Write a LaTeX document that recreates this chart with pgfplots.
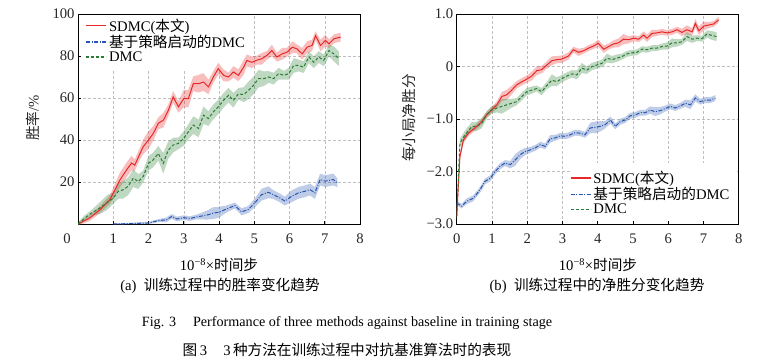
\documentclass[border=0pt]{standalone}
\usepackage{pgfplots}
\pgfplotsset{compat=1.18}
\usepackage{pgfplotstable}
\usepackage{fontspec}
\setmainfont{Liberation Serif}
\newfontfamily\cjk{Noto Sans CJK SC}
\newcommand\zh[1]{{\cjk #1}}
\newcommand\fs{\fontsize{14.7}{17.5}\selectfont}
\definecolor{sred}{RGB}{232,40,40}
\definecolor{sblue}{RGB}{40,85,175}
\definecolor{sgreen}{RGB}{40,125,50}

\pgfplotstableread{
x y e
0 0 0.5
0.33 2.8 1
0.62 6.8 1.2
0.9 11.5 1.5
1.04 16 2
1.19 21 2.5
1.38 25.8 2.5
1.52 29 2.5
1.61 28 2
1.76 33.6 2
1.85 36.8 2.5
2.0 40 3
2.13 43 2.5
2.28 48 2
2.42 49.4 2.5
2.56 54 2
2.7 60.5 2
2.85 55.8 2
3.0 59.7 3
3.13 59.7 3
3.27 66.8 2.5
3.42 66.8 3
3.56 67.6 3
3.7 65.3 2.5
3.84 70 2
3.98 74 2
4.13 70.8 2
4.27 70 1.5
4.41 72.4 2
4.55 70.8 2
4.7 74.7 2.5
4.79 77.9 2
4.93 77 2
5.07 78 1.5
5.22 78.7 2
5.36 80.3 1.5
5.5 82.6 2
5.64 79.5 1.5
5.79 81 2
5.93 81.8 1.5
6.08 84.2 2
6.21 83.4 1.5
6.36 81 2
6.5 84.2 2
6.64 85 2
6.74 89.7 1.5
6.88 85 2
7.02 87.4 2
7.12 85.8 1.5
7.26 88.2 1.5
7.45 89 1.5
}\lred
\pgfplotstableread{
x y e
0 0 0.5
0.19 2.8 1
0.38 5.2 1
0.62 7.6 2
0.81 10 2.5
1.0 12.3 2
1.14 15.5 2.5
1.28 16.3 3
1.42 17.9 3
1.57 21.8 3
1.71 20.2 2.5
1.85 22.6 2
2.0 28.9 2.5
2.13 30.5 2.5
2.28 33.6 2.5
2.42 28.9 3.5
2.56 35.2 3
2.7 37.6 2.5
2.85 38.4 2
3.0 40.8 2.5
3.13 43.9 2.5
3.27 47.1 3
3.42 45.5 3
3.56 51.8 3
3.7 50.2 2.5
3.84 53.4 2.5
3.98 55.8 2.5
4.13 58.9 2.5
4.27 61.3 2.5
4.41 58.9 2.5
4.55 62 2
4.7 61.6 2.5
4.84 63.7 3
4.98 66 3
5.12 69.2 3
5.27 69.2 2.5
5.41 70 2
5.55 69.2 2
5.69 71.6 2
5.84 70.8 1.5
5.98 71.6 2
6.12 75.5 2.5
6.26 75.5 2
6.4 74.7 2
6.55 79.5 2
6.69 77 2
6.83 79.5 2
6.97 77.9 2
7.12 82.6 2
7.26 81 2.5
7.4 78.7 2.5
}\lgreen
\pgfplotstableread{
x y e
1.0 0 0.2
1.5 0.2 0.3
2.0 0.5 0.4
2.28 1.6 0.5
2.51 2.0 0.8
2.66 3.6 0.8
2.8 2.4 0.8
3.0 3.0 0.8
3.18 2.6 0.8
3.37 3.4 0.8
3.65 4.2 1.5
3.84 5.2 2
4.0 5.6 1.8
4.22 7.2 1.2
4.45 8.8 1
4.64 5.8 1.2
4.83 6.9 1.2
5.02 10.1 1.5
5.21 14 2
5.40 15.1 2
5.54 14 1.5
5.72 12.5 1.5
5.87 10.9 1.5
6.06 13.2 2
6.25 14.8 2
6.44 15.6 2
6.58 16.4 2
6.72 14.8 2
6.87 21.2 2
7.01 20.4 2
7.15 20.9 2
7.24 21.2 2
7.36 19.6 1.5
}\lblue
\pgfplotstableread{
x y e
0 -2.86 0.05
0.09 -1.72 0.05
0.19 -1.4 0.05
0.33 -1.27 0.04
0.52 -1.17 0.04
0.71 -1.05 0.04
0.85 -0.92 0.04
0.99 -0.83 0.04
1.14 -0.73 0.05
1.28 -0.57 0.06
1.42 -0.54 0.07
1.56 -0.45 0.06
1.7 -0.35 0.05
1.85 -0.29 0.05
1.99 -0.24 0.05
2.13 -0.18 0.06
2.27 -0.08 0.06
2.41 -0.06 0.05
2.56 0.03 0.05
2.7 0.11 0.06
2.84 0.13 0.05
2.98 0.14 0.05
3.17 0.2 0.05
3.31 0.32 0.04
3.46 0.27 0.05
3.6 0.3 0.04
3.74 0.35 0.04
3.88 0.39 0.04
4.02 0.44 0.05
4.17 0.33 0.05
4.31 0.38 0.04
4.45 0.43 0.05
4.59 0.45 0.06
4.73 0.52 0.07
4.88 0.51 0.05
5.02 0.54 0.04
5.16 0.52 0.04
5.3 0.6 0.05
5.4 0.54 0.05
5.54 0.63 0.05
5.68 0.64 0.04
5.82 0.66 0.04
5.97 0.64 0.04
6.11 0.66 0.04
6.25 0.7 0.04
6.39 0.65 0.05
6.53 0.7 0.06
6.68 0.66 0.05
6.77 0.82 0.06
6.87 0.68 0.06
7.01 0.77 0.06
7.15 0.79 0.04
7.29 0.81 0.04
7.43 0.89 0.04
}\rred
\pgfplotstableread{
x y e
0 -2.86 0.05
0.09 -1.46 0.06
0.24 -1.3 0.06
0.43 -1.14 0.06
0.57 -1.14 0.06
0.71 -1.08 0.07
0.85 -0.92 0.05
0.99 -0.83 0.05
1.14 -0.79 0.06
1.28 -0.76 0.1
1.42 -0.73 0.08
1.56 -0.7 0.06
1.7 -0.67 0.05
1.85 -0.57 0.05
1.99 -0.48 0.05
2.13 -0.45 0.05
2.27 -0.42 0.04
2.41 -0.48 0.05
2.56 -0.36 0.05
2.7 -0.26 0.08
2.84 -0.29 0.06
2.98 -0.23 0.05
3.13 -0.18 0.05
3.27 -0.14 0.05
3.41 -0.16 0.06
3.55 -0.03 0.07
3.69 -0.07 0.05
3.84 0.0 0.05
3.98 0.03 0.05
4.12 0.06 0.05
4.26 0.16 0.06
4.4 0.13 0.05
4.55 0.16 0.05
4.69 0.19 0.04
4.83 0.24 0.04
4.97 0.26 0.04
5.11 0.27 0.04
5.26 0.33 0.04
5.4 0.32 0.04
5.54 0.35 0.04
5.68 0.35 0.04
5.82 0.38 0.04
5.97 0.39 0.05
6.11 0.45 0.06
6.25 0.45 0.05
6.39 0.47 0.04
6.53 0.57 0.06
6.68 0.52 0.05
6.82 0.54 0.04
6.96 0.53 0.04
7.1 0.62 0.05
7.24 0.59 0.06
7.37 0.57 0.06
}\rgreen
\pgfplotstableread{
x y e
0 -2.6 0.03
0.14 -2.66 0.03
0.28 -2.57 0.04
0.47 -2.51 0.04
0.66 -2.35 0.04
0.8 -2.19 0.04
0.95 -2.13 0.04
1.09 -2.0 0.04
1.23 -1.9 0.04
1.37 -1.84 0.04
1.52 -1.87 0.05
1.66 -1.78 0.08
1.8 -1.68 0.06
1.94 -1.62 0.05
2.08 -1.59 0.04
2.23 -1.55 0.04
2.37 -1.49 0.04
2.51 -1.52 0.04
2.65 -1.38 0.05
2.79 -1.36 0.04
2.94 -1.32 0.04
3.08 -1.33 0.04
3.22 -1.3 0.04
3.36 -1.26 0.04
3.5 -1.27 0.04
3.64 -1.3 0.04
3.79 -1.17 0.07
3.93 -1.16 0.08
4.07 -1.14 0.07
4.21 -1.11 0.05
4.36 -1.02 0.05
4.5 -1.14 0.04
4.64 -1.05 0.04
4.78 -1.02 0.04
4.92 -0.94 0.04
5.07 -0.92 0.04
5.21 -0.88 0.04
5.35 -0.88 0.04
5.49 -0.83 0.05
5.63 -0.86 0.06
5.78 -0.84 0.05
5.92 -0.8 0.04
6.06 -0.76 0.04
6.2 -0.79 0.04
6.34 -0.75 0.04
6.49 -0.7 0.05
6.63 -0.73 0.06
6.77 -0.6 0.05
6.91 -0.67 0.04
7.05 -0.64 0.04
7.2 -0.64 0.04
7.34 -0.6 0.04
}\rblue

% build closed band polygons: upper edge forward, lower edge backward
\newcommand\mkband[2]{%
  \pgfplotstablesort[sort key=x, sort cmp=float <]{#2}{#1}%
  \pgfplotstablecreatecol[expr={\thisrow{y}+1.4*\thisrow{e}}]{b}{#2}%
  \pgfplotstablesort[sort key=x, sort cmp=float >]{\tmprev}{#1}%
  \pgfplotstablecreatecol[expr={\thisrow{y}-1.4*\thisrow{e}}]{b}{\tmprev}%
  \pgfplotstablevertcat{#2}{\tmprev}%
}
\mkband{\lred}{\blred}
\mkband{\lgreen}{\blgreen}
\mkband{\lblue}{\blblue}
\mkband{\rred}{\brred}
\mkband{\rgreen}{\brgreen}
\mkband{\rblue}{\brblue}

\pgfplotsset{
  common/.style={
    scale only axis, width=282bp, height=210bp,
    xmin=0, xmax=8,
    axis line style={black, line width=0.8bp},
    grid=major,
    grid style={gray!50, line width=0.5bp, dash pattern=on 3bp off 2bp},
    tick style={black, line width=0.6bp},
    major tick length=3bp, tick align=inside, tick pos=left,
    /pgf/number format/assume math mode=true,
    tick label style={font=\fs, text=black!85},
    xticklabel style={yshift=-6bp},
    legend cell align=left,
    legend style={draw=none, fill=none, font=\fs, inner sep=0.5bp, row sep=-1.5bp},
    legend image code/.code={\draw[##1, line width=1.3bp] (0bp,0bp) -- (20bp,0bp);},
  },
  redline/.style={sred, line width=1bp},
  blueline/.style={sblue, line width=1bp, dash pattern=on 4bp off 1.5bp on 1bp off 1.5bp},
  greenline/.style={sgreen, line width=1bp, dash pattern=on 3bp off 2bp},
  bandfill/.style={fill=#1, fill opacity=0.3, draw=none, forget plot},
}

\begin{document}
\begin{tikzpicture}
\useasboundingbox (0,0) rectangle (767bp,-362bp);
% left
\begin{axis}[common, at={(78bp,-14bp)}, anchor=north west,
  ymin=0, ymax=100, ytick={20,40,60,80,100},
  xtick={0,1,2,3,4,5,6,7,8},
  xticklabels={\hspace*{-22bp}0,1,2,3,4,5,6,7,8},
  legend style={at={(0.025,0.99)}, anchor=north west},
]
% white area behind the legend (hides grid, stays under the data)
\fill[white] (axis cs:0.15,73.5) rectangle (axis cs:4.95,99.3);
\addplot[bandfill=sred] table[x=x, y=b] {\blred};
\addplot[bandfill=sblue] table[x=x, y=b] {\blblue};
\addplot[bandfill=sgreen] table[x=x, y=b] {\blgreen};
\addplot[redline] table[x=x,y=y] {\lred};
\addlegendentry{SDMC(\zh{本文})}
\addplot[blueline] table[x=x,y=y] {\lblue};
\addlegendentry{\zh{基于策略启动的}DMC}
\addplot[greenline] table[x=x,y=y] {\lgreen};
\addlegendentry{DMC}
\end{axis}
% right
\begin{axis}[common, at={(456.7bp,-14bp)}, anchor=north west,
  ymin=-3, ymax=1, ytick={-3,-2,-1,0,1},
  yticklabels={−3.0,−2.0,−1.0,0,1.0},
  xtick={0,1,2,3,4,5,6,7,8},
  legend style={at={(0.40,0.03)}, anchor=south west},
]
\fill[white] (axis cs:3.2,-2.9) rectangle (axis cs:7.95,-1.83);
\addplot[bandfill=sred] table[x=x, y=b] {\brred};
\addplot[bandfill=sblue] table[x=x, y=b] {\brblue};
\addplot[bandfill=sgreen] table[x=x, y=b] {\brgreen};
\addplot[redline] table[x=x,y=y] {\rred};
\addlegendentry{SDMC(\zh{本文})}
\addplot[blueline] table[x=x,y=y] {\rblue};
\addlegendentry{\zh{基于策略启动的}DMC}
\addplot[greenline] table[x=x,y=y] {\rgreen};
\addlegendentry{DMC}
\end{axis}
% labels
\node[font=\fs, text=black!85, rotate=90] at (33bp,-118bp) {\zh{胜率}/\%};
\node[font=\fs, text=black!85, rotate=90] at (409bp,-118bp) {\zh{每小局净胜分}};
\node[font=\fs] at (219bp,-265bp) {10\textsuperscript{−8}×\zh{时间步}};
\node[font=\fs] at (598bp,-265bp) {10\textsuperscript{−8}×\zh{时间步}};
\node[font=\fs] at (220bp,-286bp) {(a)\ \ \zh{训练过程中的胜率变化趋势}};
\node[font=\fs] at (597bp,-286bp) {(b)\ \ \zh{训练过程中的净胜分变化趋势}};
\node[font=\fontsize{14.2}{16}\selectfont] at (347bp,-323bp) {Fig. 3\hspace{1.2em}Performance of three methods against baseline in training stage};
\node[font=\fs] at (347bp,-350bp) {\zh{图}\,3\hspace{1.1em}3\,\zh{种方法在训练过程中对抗基准算法时的表现}};
\end{tikzpicture}
\end{document}
